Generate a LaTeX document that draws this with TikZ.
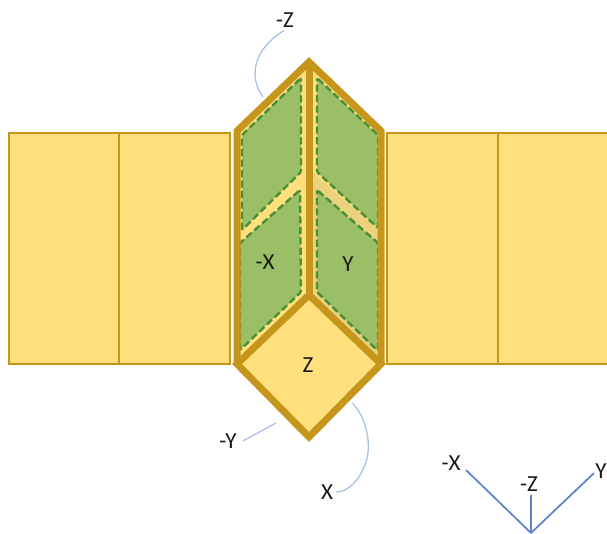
\documentclass[tikz,border=0pt]{standalone}
\usepackage{fontspec}
\setmainfont{Carlito}
\definecolor{panel}{HTML}{FFE07C}
\definecolor{band}{HTML}{EBD27C}
\definecolor{edge}{HTML}{C6951C}
\definecolor{solar}{HTML}{9BBF66}
\definecolor{solaredge}{HTML}{4C8F35}
\definecolor{thin}{HTML}{A9C0E8}
\definecolor{axis}{HTML}{5B82C8}
\tikzset{
  wing/.style={draw=edge,line width=1.3pt,fill=panel},
  body/.style={draw=edge,line width=7pt,miter limit=10,line join=miter},
  cell/.style={fill=solar,draw=solaredge,line width=2.4pt,dash pattern=on 7pt off 3.5pt,rounded corners=1.5pt},
  lbl/.style={font=\fontsize{23}{23}\selectfont,text=black!90,inner sep=0pt,anchor=center},
  leader/.style={draw=thin,line width=1.3pt},
  axisline/.style={draw=axis,line width=1.7pt}
}
\begin{document}
\begin{tikzpicture}[x=1pt,y=-1pt]
\useasboundingbox (0,0) rectangle (607,533);
% wings
\draw[wing] (9,133) rectangle (119,364);
\draw[wing] (119,133) rectangle (230,364);
\draw[wing] (387,133) rectangle (498,364);
\draw[wing] (498,133) rectangle (612,364);
% body
\fill[panel] (309,62) -- (381,131) -- (381,364) -- (309,437) -- (237,364) -- (237,131) -- cycle;
\fill[band] (312,172) -- (381,232) -- (381,364) -- (312,295) -- cycle;
% solar cells
\draw[cell] (301,78) -- (242,135) -- (242,230) -- (301,172) -- cycle;
\draw[cell] (300,190) -- (240,243) -- (240,350) -- (301,292) -- cycle;
\draw[cell] (317,78) -- (378,135) -- (378,228) -- (317,172) -- cycle;
\draw[cell] (317,190) -- (378,243) -- (378,351) -- (317,292) -- cycle;
% outline
\draw[body] (309,295) -- (381,364) -- (309,437) -- (237,364) -- cycle;
\draw[body] (237,364) -- (237,131) -- (309,62) -- (381,131) -- (381,364);
\draw[body] (309,62) -- (309,295);
% labels
\node[lbl] (lz) at (308,365) {Z};
\node[lbl] (lmx) at (265,262) {-X};
\node[lbl] (ly) at (348,264) {Y};
\node[lbl] (lmz) at (285,20) {-Z};
\node[lbl] (lmy) at (228,441) {-Y};
\node[lbl] (lx) at (327,492) {X};
\node[lbl] (amx) at (451,463) {-X};
\node[lbl] (ay) at (601,471) {Y};
\node[lbl] (amz) at (529,484) {-Z};
% leaders
\coordinate (pmz) at (263,97);
\coordinate (pmy) at (276,423);
\coordinate (px) at (352,403);
\coordinate (o) at (531,533);
\coordinate (emx) at (466,470);
\coordinate (ey) at (594,473);
\coordinate (emz) at (531,495);
\draw[leader] (pmz) .. controls (249,78) and (252,50) .. ([shift={(-1,3)}]lmz.south);
\draw[leader] ([xshift=6pt]lmy.east) -- (pmy);
\draw[leader] (px) .. controls (366,416) and (372,444) .. (366,462) .. controls (360,480) and (348,492) .. ([xshift=3pt]lx.east);
\draw[axisline] (o) -- (emx);
\draw[axisline] (o) -- (ey);
\draw[axisline] (o) -- (emz);
\end{tikzpicture}
\end{document}
